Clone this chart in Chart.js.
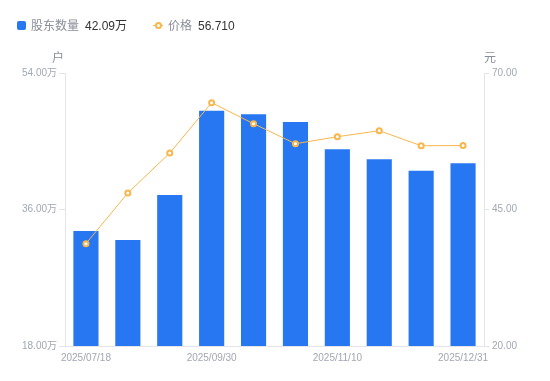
<!DOCTYPE html>
<html><head><meta charset="utf-8">
<script src="https://cdn.jsdelivr.net/npm/chart.js@4/dist/chart.umd.min.js"></script>
<style>
html,body{margin:0;padding:0;background:#fff;}
#wrap{position:relative;width:550px;height:381px;font-family:"Liberation Sans",Arial,"Noto Sans CJK SC",sans-serif;}
#legend{position:absolute;left:17px;top:16px;font-size:12px;line-height:18px;white-space:nowrap;}
.item{position:absolute;top:0;}
.nm{color:#8a8e99;font-family:"Noto Sans CJK SC",sans-serif;font-size:12px;}
.vl{color:#333;}
.sq{position:absolute;top:4.5px;left:0;width:9px;height:9px;border-radius:2px;background:#2777F2;}
.ln{position:absolute;top:8.5px;left:0;width:10px;height:1px;background:#F8B64C;}
.dot{position:absolute;top:5.5px;left:2px;width:3px;height:3px;border:2px solid #F8B64C;border-radius:50%;background:#fff;}
canvas{position:absolute;left:0;top:0;}
</style></head>
<body>
<div id="wrap">
<canvas id="c" width="550" height="381"></canvas>
<div id="legend">
 <div class="item" style="left:0"><span class="sq"></span><span style="margin-left:14px" class="nm">股东数量</span><span class="vl" style="margin-left:6px">42.09万</span></div>
 <div class="item" style="left:136px"><span class="ln"></span><span class="dot"></span><span style="margin-left:15px" class="nm">价格</span><span class="vl" style="margin-left:6px">56.710</span></div>
</div>
</div>
<script>
const dates = ["2025/07/18","2025/08/08","2025/08/29","2025/09/30","2025/10/10","2025/10/20","2025/11/10","2025/11/20","2025/12/10","2025/12/31"];
const holders = [33.17, 31.98, 37.91, 49.03, 48.55, 47.54, 43.94, 42.62, 41.12, 42.09];
const prices = [38.74, 48.02, 55.35, 64.56, 60.71, 57.05, 58.33, 59.43, 56.68, 56.71];
const leftTicks = [18, 36, 54];
const rightTicks = [20, 45, 70];
const shownDateIdx = [0, 3, 6, 9];

const tickColor = '#a3a7b3';
const axisColor = '#e3e5ea';
const tickFont = { size: 10, family: '"Liberation Sans", Arial, "Noto Sans CJK SC", sans-serif' };

const titlePlugin = {
  id: 'axisTitles',
  afterDraw(chart) {
    const ctx = chart.ctx;
    const a = chart.chartArea;
    ctx.save();
    ctx.font = '12px "Noto Sans CJK SC", sans-serif';
    ctx.fillStyle = '#8a8e99';
    ctx.textAlign = 'center';
    ctx.textBaseline = 'middle';
    ctx.fillText('户', a.left - 7, a.top - 16);
    ctx.fillText('元', a.right + 6, a.top - 16);
    ctx.restore();
  }
};

new Chart(document.getElementById('c'), {
  data: {
    labels: dates,
    datasets: [
      {
        type: 'line',
        label: '价格',
        data: prices,
        yAxisID: 'y1',
        borderColor: '#F8B64C',
        borderWidth: 1,
        pointRadius: 2.5,
        pointBorderWidth: 2,
        pointBackgroundColor: '#fff',
        pointBorderColor: '#F8B64C',
        tension: 0,
        order: 0
      },
      {
        type: 'bar',
        label: '股东数量',
        data: holders,
        yAxisID: 'y',
        backgroundColor: '#2777F2',
        barPercentage: 0.6,
        categoryPercentage: 1,
        order: 1
      }
    ]
  },
  options: {
    responsive: false,
    animation: false,
    layout: { padding: { top: 73, left: 0, right: 0, bottom: 0 } },
    plugins: { legend: { display: false }, tooltip: { enabled: false } },
    scales: {
      x: {
        grid: { display: false, drawTicks: false },
        border: { display: true, color: axisColor },
        afterFit(s) { s.height = 35; },
        ticks: {
          autoSkip: false,
          maxRotation: 0,
          padding: 6,
          color: tickColor,
          font: tickFont,
          callback(v, i) { return shownDateIdx.includes(i) ? dates[i] : ''; }
        }
      },
      y: {
        position: 'left',
        min: 18, max: 54,
        afterFit(s) { s.width = 65; },
        afterBuildTicks(s) { s.ticks = leftTicks.map(v => ({ value: v })); },
        grid: { drawOnChartArea: false, tickLength: 6, color: axisColor },
        border: { display: true, color: axisColor },
        ticks: {
          padding: 2,
          color: tickColor,
          font: tickFont,
          callback(v) { return v.toFixed(2) + '万'; }
        }
      },
      y1: {
        position: 'right',
        min: 20, max: 70,
        afterFit(s) { s.width = 66; },
        afterBuildTicks(s) { s.ticks = rightTicks.map(v => ({ value: v })); },
        grid: { drawOnChartArea: false, tickLength: 5, color: axisColor },
        border: { display: true, color: axisColor },
        ticks: {
          padding: 3,
          color: tickColor,
          font: tickFont,
          callback(v) { return v.toFixed(2); }
        }
      }
    }
  },
  plugins: [titlePlugin]
});
</script>
</body></html>
